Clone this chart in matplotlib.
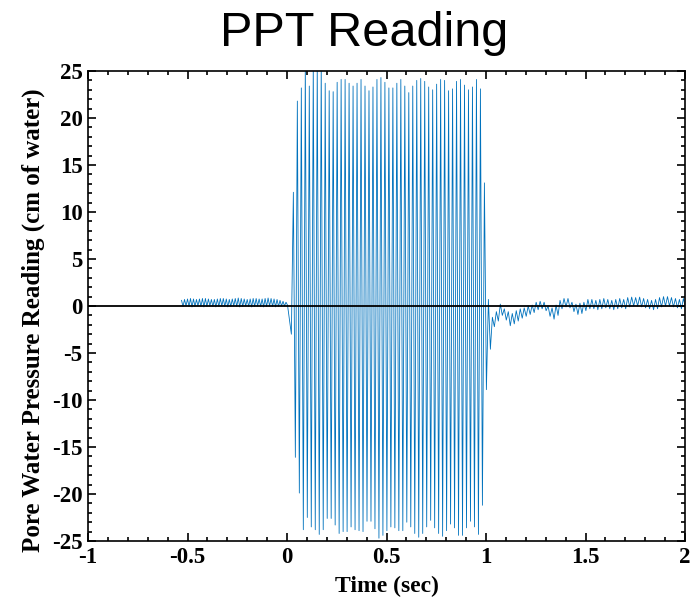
import numpy as np
import matplotlib
matplotlib.use("Agg")
import matplotlib.pyplot as plt
from matplotlib.ticker import MultipleLocator

plt.rcParams["axes.unicode_minus"] = False

# ---------------- data (extrema) ----------------
# pre-shaking small oscillation (period ~0.015 s), starts at t = -0.53 s
pre_t0, pre_period = -0.53, 0.015
pre_up = [0.6, 0.7, 0.75, 0.8, 0.75, 0.7, 0.75, 0.8, 0.8, 0.75, 0.7, 0.7,
          0.75, 0.8, 0.8, 0.75, 0.7, 0.75, 0.8, 0.85, 0.8, 0.75, 0.7, 0.75,
          0.8, 0.8, 0.75, 0.75, 0.8, 0.85, 0.8, 0.75, 0.7, 0.6, 0.5, 0.4]
pre_lo = [-0.05, 0.0, -0.05, -0.1, -0.05, 0.0, -0.05, -0.1, -0.05, 0.0, -0.05, -0.1,
          -0.05, 0.0, -0.05, -0.1, -0.05, 0.0, -0.05, -0.1, -0.05, 0.0, -0.05, -0.1,
          -0.05, 0.0, -0.05, -0.1, -0.05, 0.0, -0.05, -0.1, -0.05, 0.0, 0.0, 0.1]

# shaking + post-shaking: alternating extrema every half period (0.01 s) from t = 0.022 s
main_t0, half_period = 0.022, 0.01
start_lo, start_up = -3.0, 12.1
main_lo = [-16.1, -19.9, -23.8, -22.5, -23.5, -23.8, -24.3, -23.8, -22.6, -22.6,
           -23.3, -24.2, -24.0, -24.0, -23.5, -23.8, -23.9, -24.0, -22.9, -22.9,
           -23.7, -24.7, -24.4, -23.9, -23.5, -23.6, -23.9, -23.9, -23.0, -23.5,
           -24.2, -24.6, -24.2, -23.5, -22.8, -23.6, -24.2, -24.5, -23.9, -23.2,
           -23.6, -24.4, -24.4, -23.6, -22.9, -23.5, -24.3, -21.2]
main_up = [21.8, 23.2, 25.8, 23.4, 25.8, 25.8, 25.8, 23.7, 22.9, 22.8,
           23.8, 24.1, 24.1, 23.7, 23.4, 23.7, 24.1, 23.4, 22.9, 23.3,
           24.1, 24.3, 23.8, 23.2, 23.2, 23.7, 24.1, 23.4, 22.7, 23.4,
           24.0, 24.2, 23.9, 23.3, 23.0, 23.6, 24.1, 24.0, 22.9, 23.1,
           23.9, 24.1, 23.5, 23.0, 23.3, 24.1, 23.1]
end_up, end_lo = 13.1, -8.9
post_up = [0.7, -1.2, -0.6, 0.2, -0.3, -0.6, -0.8, -0.5, -0.3, -0.2,
           0.0, 0.1, 0.4, 0.5, 0.4, 0.0, -0.2, 0.1, 0.6, 0.8,
           0.8, 0.4, 0.2, 0.3, 0.4, 0.7, 0.7, 0.6, 0.7, 0.8,
           0.7, 0.6, 0.7, 0.8, 0.7, 0.9, 0.95, 0.9, 0.95, 0.8,
           0.7, 0.6, 0.7, 0.9, 1.0, 1.0, 0.9, 0.8, 0.7, 0.8]
post_lo = [-4.6, -2.2, -1.6, -1.0, -1.5, -2.1, -1.9, -1.6, -1.3, -1.1,
           -0.9, -0.7, -0.4, -0.3, -0.5, -1.1, -1.4, -1.0, -0.3, -0.1,
           -0.2, -0.6, -0.9, -0.8, -0.5, -0.3, -0.3, -0.4, -0.3, -0.2,
           -0.3, -0.4, -0.3, -0.2, -0.3, -0.1, 0.0, 0.0, -0.1, -0.2,
           -0.3, -0.4, -0.3, -0.1, 0.0, 0.0, -0.1, -0.2, -0.3, -0.2]

x_ticks = [-1, -0.5, 0, 0.5, 1, 1.5, 2]
x_ticklabels = ["-1", "-0.5", "0", "0.5", "1", "1.5", "2"]
y_ticks = [-25, -20, -15, -10, -5, 0, 5, 10, 15, 20, 25]

# ---------------- build series ----------------
pre_vals = []
for u, l in zip(pre_up, pre_lo):
    pre_vals += [u, l]
pre_t = pre_t0 + np.arange(len(pre_vals)) * pre_period / 2

seq = [start_lo, start_up]
for i in range(len(main_lo)):
    seq.append(main_lo[i])
    if i < len(main_up):
        seq.append(main_up[i])
seq += [end_up, end_lo]
for u, l in zip(post_up, post_lo):
    seq += [u, l]
seq_t = main_t0 + np.arange(len(seq)) * half_period

t = np.concatenate([pre_t, seq_t])
v = np.concatenate([pre_vals, seq])

# ---------------- plot ----------------
W, H = 699, 604
fig = plt.figure(figsize=(W / 100, H / 100), dpi=100)
ax = fig.add_axes([88 / W, 1 - 541 / H, (685 - 88) / W, (541 - 71) / H])

ax.plot(t, v, color=(0, 0.447, 0.741), lw=0.6)
ax.axhline(0, color="black", lw=1.3)

ax.set_xlim(-1, 2)
ax.set_ylim(-25, 25)
ax.set_xticks(x_ticks)
ax.set_xticklabels(x_ticklabels)
ax.set_yticks(y_ticks)
ax.xaxis.set_minor_locator(MultipleLocator(0.1))
ax.yaxis.set_minor_locator(MultipleLocator(1))
ax.tick_params(which="both", direction="in", top=True, right=True, width=1.2)
ax.tick_params(which="major", length=6, labelsize=16.5, pad=4)
ax.tick_params(which="minor", length=3)
for lab in ax.get_xticklabels() + ax.get_yticklabels():
    lab.set_fontfamily("Liberation Serif")
    lab.set_fontweight("bold")
for s in ax.spines.values():
    s.set_linewidth(1.2)

ax.set_xlabel("Time (sec)", fontfamily="Liberation Serif", fontweight="bold",
              fontsize=17, labelpad=6)
ax.set_ylabel("Pore Water Pressure Reading (cm of water)", fontfamily="Liberation Serif",
              fontweight="bold", fontsize=18)
ax.yaxis.set_label_coords(-0.072, 0.47)

fig.text(364 / W, 1 - 34 / H, "PPT Reading", fontfamily="Liberation Sans",
         fontsize=35, ha="center", va="center")

fig.savefig("out.png", dpi=100)
